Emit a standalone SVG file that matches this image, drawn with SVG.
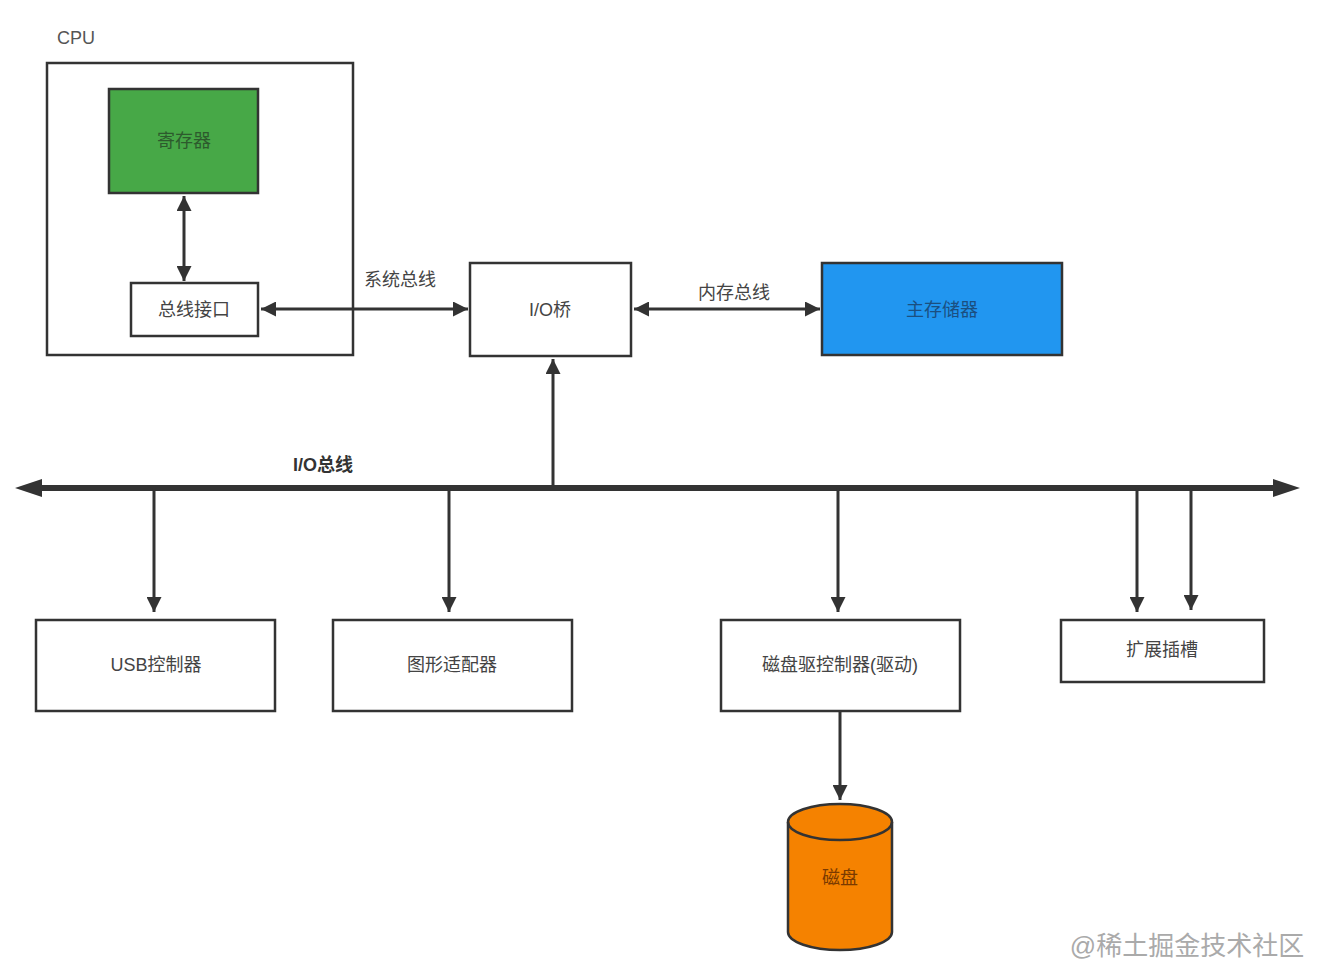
<svg xmlns="http://www.w3.org/2000/svg" width="1336" height="976" viewBox="0 0 1336 976">
<style>
.box{fill:#fff;stroke:#333;stroke-width:2.5}
.t{font-family:"Liberation Sans","Noto Sans CJK SC",sans-serif;font-size:18px;fill:#444;text-anchor:middle;dominant-baseline:central}
.ln{stroke:#333;stroke-width:3;fill:none}
</style>
<defs>
<marker id="ah" viewBox="0 0 10 10" refX="10" refY="5" markerWidth="6.5" markerHeight="5" orient="auto-start-reverse" markerUnits="strokeWidth"><path d="M0,0L10,5L0,10z" fill="#333"/></marker>
</defs>
<rect width="1336" height="976" fill="#fff"/>
<g id="cpu">
<text x="76" y="38" class="t" style="fill:#555">CPU</text>
<rect x="47" y="63" width="306" height="292" class="box"/>
</g>
<g id="register">
<rect x="109" y="89" width="149" height="104" class="box" style="fill:#47a847"/>
<text x="184" y="141" class="t" style="fill:#2d5a2d">寄存器</text>
</g>
<g id="bus-interface">
<rect x="131" y="283" width="127" height="53" class="box"/>
<text x="194" y="310" class="t">总线接口</text>
</g>
<g id="io-bridge">
<rect x="470" y="263" width="161" height="93" class="box"/>
<text x="550" y="310" class="t">I/O桥</text>
</g>
<g id="main-memory">
<rect x="822" y="263" width="240" height="92" class="box" style="fill:#2196f0"/>
<text x="942" y="310" class="t" style="fill:#1b4f80">主存储器</text>
</g>
<g id="usb">
<rect x="36" y="620" width="239" height="91" class="box"/>
<text x="156" y="665" class="t">USB控制器</text>
</g>
<g id="graphics">
<rect x="333" y="620" width="239" height="91" class="box"/>
<text x="452" y="665" class="t">图形适配器</text>
</g>
<g id="disk-controller">
<rect x="721" y="620" width="239" height="91" class="box"/>
<text x="840" y="665" class="t">磁盘驱控制器(驱动)</text>
</g>
<g id="expansion">
<rect x="1061" y="620" width="203" height="62" class="box"/>
<text x="1162" y="650" class="t">扩展插槽</text>
</g>
<g id="disk">
<path d="M788,822 L788,932 A52,18 0 0 0 892,932 L892,822 A52,18 0 0 0 788,822 Z" fill="#f58200" stroke="#333" stroke-width="2.5"/>
<path d="M788,822 A52,18 0 0 0 892,822" fill="none" stroke="#333" stroke-width="2.5"/>
<text x="840" y="878" class="t" style="fill:#7a3a00">磁盘</text>
</g>
<g id="connectors">
<line x1="184" y1="196" x2="184" y2="281" class="ln" marker-start="url(#ah)" marker-end="url(#ah)"/>
<line x1="261" y1="309" x2="468" y2="309" class="ln" marker-start="url(#ah)" marker-end="url(#ah)"/>
<text x="400" y="280" class="t">系统总线</text>
<line x1="634" y1="309" x2="820" y2="309" class="ln" marker-start="url(#ah)" marker-end="url(#ah)"/>
<text x="734" y="293" class="t">内存总线</text>
<line x1="553" y1="488" x2="553" y2="359" class="ln" marker-end="url(#ah)"/>
<line x1="40" y1="488" x2="1275" y2="488" stroke="#333" stroke-width="6"/>
<polygon points="15,488 42,479 42,497" fill="#333"/>
<polygon points="1300,488 1273,479 1273,497" fill="#333"/>
<text x="323" y="465" class="t" style="font-weight:bold;fill:#333">I/O总线</text>
<line x1="154" y1="488" x2="154" y2="612" class="ln" marker-end="url(#ah)"/>
<line x1="449" y1="488" x2="449" y2="612" class="ln" marker-end="url(#ah)"/>
<line x1="838" y1="488" x2="838" y2="612" class="ln" marker-end="url(#ah)"/>
<line x1="1137" y1="488" x2="1137" y2="612" class="ln" marker-end="url(#ah)"/>
<line x1="1191" y1="488" x2="1191" y2="610" class="ln" marker-end="url(#ah)"/>
<line x1="840" y1="711" x2="840" y2="800" class="ln" marker-end="url(#ah)"/>
</g>
<text x="1187" y="946" class="t" style="font-size:26px;fill:#aaa">@稀土掘金技术社区</text>
</svg>
